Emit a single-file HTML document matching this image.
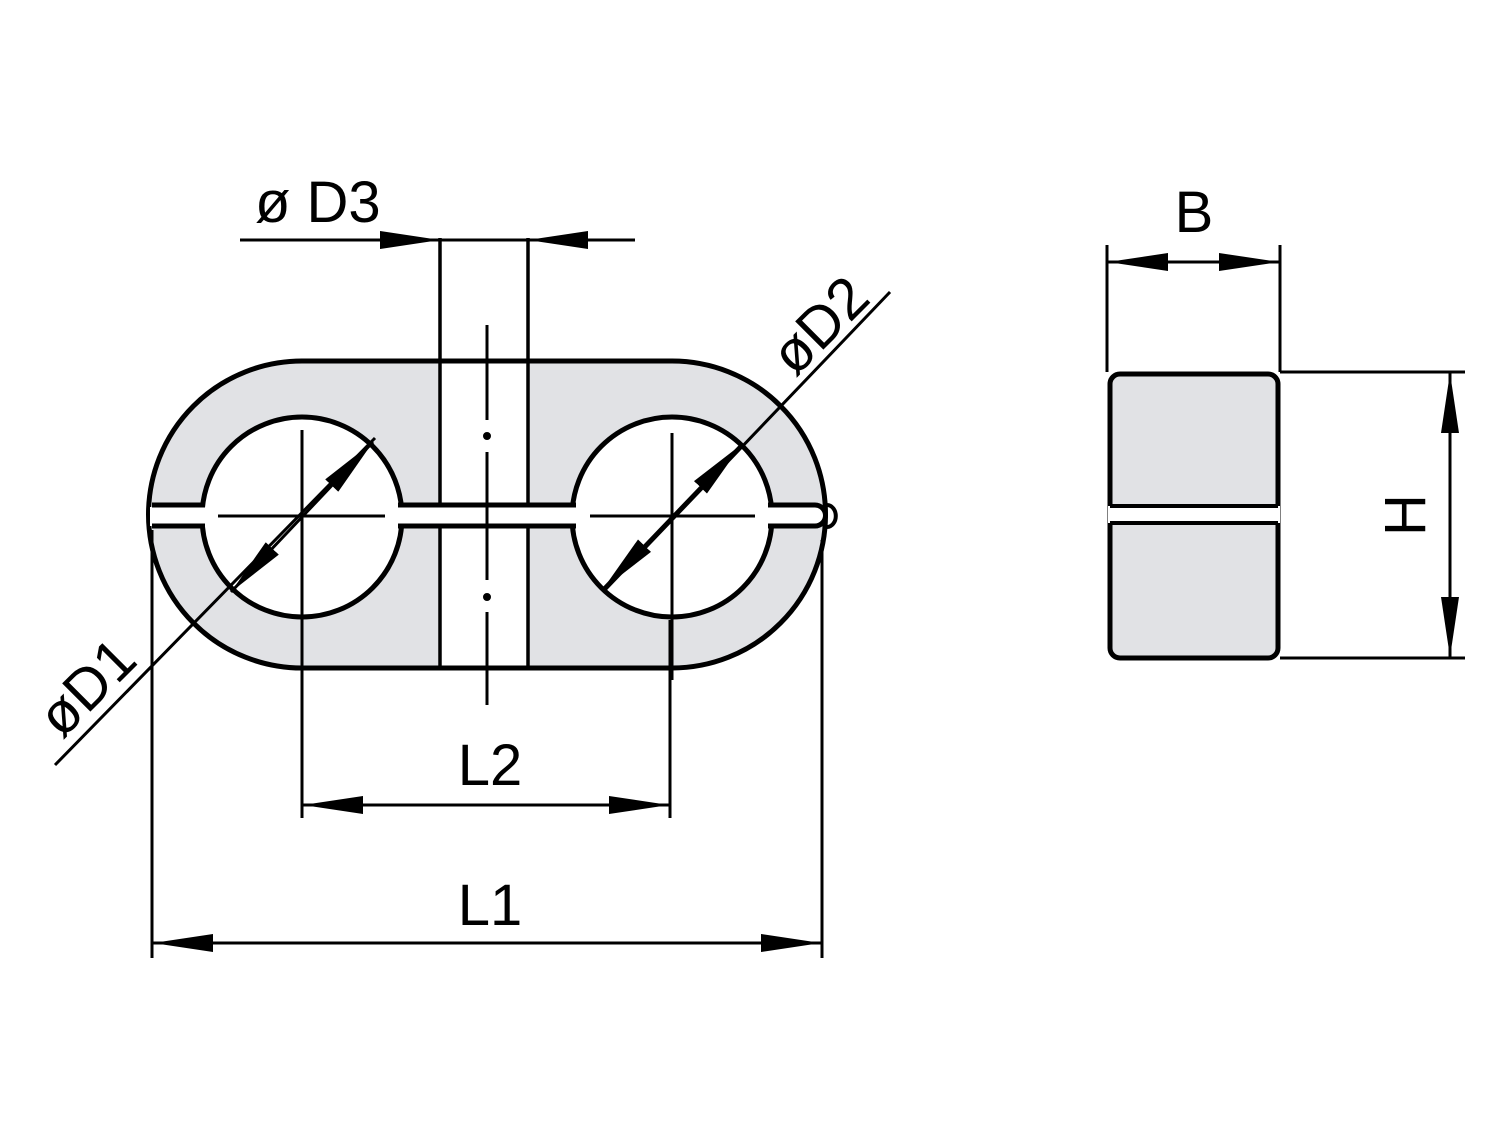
<!DOCTYPE html>
<html><head><style>body{margin:0;background:#fff}svg{display:block}</style></head><body>
<svg width="1500" height="1125" viewBox="0 0 1500 1125" xmlns="http://www.w3.org/2000/svg" font-family="Liberation Sans, sans-serif">
<defs>
<marker id="a" viewBox="0 0 60 24" refX="60" refY="12" markerWidth="60" markerHeight="24" markerUnits="userSpaceOnUse" orient="auto"><path d="M0,3 L60,12 L0,21 Z" fill="#000"/></marker>
</defs>
<g stroke="#000" stroke-width="5" fill="none">
<!-- body -->
<path d="M302,361 L672,361 A153,153 0 0 1 672,668 L302,668 A153,153 0 0 1 302,361 Z" fill="#e1e2e5" stroke="none"/>
<rect x="440" y="361" width="88" height="307" fill="#fff" stroke="none"/>
<path d="M302,361 L672,361 A153,153 0 0 1 672,668 L302,668 A153,153 0 0 1 302,361 Z"/>
<line x1="440" y1="238" x2="440" y2="668" stroke-width="3.5"/>
<line x1="528" y1="238" x2="528" y2="668" stroke-width="3.5"/>
<circle cx="302" cy="517" r="100" fill="#fff"/>
<circle cx="672" cy="517" r="100" fill="#fff"/>
<path d="M150,507 L815,507 A9,9 0 0 1 815,526 L150,526 Z" fill="#fff" stroke="none"/>
<path d="M152,505 L205,505 M398,505 L576,505 M768,505 L815,505 A10.5,10.5 0 0 1 815,526 L768,526 M576,526 L398,526 M205,526 L152,526" stroke-width="5"/>
<path d="M827,505 a8,10 0 0 1 0,22" stroke-width="4"/>
<!-- crosshairs -->
<g stroke-width="3">
<line x1="302" y1="430" x2="302" y2="700"/><line x1="218" y1="516" x2="385" y2="516"/>
<line x1="672" y1="433" x2="672" y2="680"/><line x1="590" y1="516" x2="755" y2="516"/>
<path d="M487,325 V420 M487,452 V580 M487,612 V705"/>
<circle cx="487" cy="436" r="2.5" fill="#000"/><circle cx="487" cy="597" r="2.5" fill="#000"/>
<line x1="302" y1="620" x2="302" y2="818"/><line x1="670" y1="620" x2="670" y2="818"/>
<line x1="152" y1="530" x2="152" y2="958"/><line x1="822" y1="540" x2="822" y2="958"/>
<line x1="240" y1="240" x2="635" y2="240"/>
<line x1="383" y1="240" x2="440" y2="240" marker-end="url(#a)"/>
<line x1="590" y1="240" x2="528" y2="240" marker-end="url(#a)"/>
<line x1="302" y1="805" x2="670" y2="805"/>
<line x1="370" y1="805" x2="303" y2="805" marker-end="url(#a)"/>
<line x1="600" y1="805" x2="669" y2="805" marker-end="url(#a)"/>
<line x1="152" y1="943" x2="822" y2="943"/>
<line x1="220" y1="943" x2="153" y2="943" marker-end="url(#a)"/>
<line x1="755" y1="943" x2="821" y2="943" marker-end="url(#a)"/>
<line x1="55" y1="765" x2="375" y2="438"/>
<line x1="302" y1="517" x2="373" y2="442" marker-end="url(#a)"/>
<line x1="302" y1="517" x2="231" y2="592" marker-end="url(#a)"/>
<line x1="890" y1="292" x2="605" y2="590"/>
<line x1="672" y1="517" x2="742" y2="444" marker-end="url(#a)"/>
<line x1="672" y1="517" x2="603" y2="589" marker-end="url(#a)"/>
<!-- side view dims -->
<line x1="1107" y1="245" x2="1107" y2="372"/><line x1="1280" y1="245" x2="1280" y2="372"/>
<line x1="1107" y1="262" x2="1280" y2="262"/>
<line x1="1172" y1="262" x2="1108" y2="262" marker-end="url(#a)"/>
<line x1="1215" y1="262" x2="1279" y2="262" marker-end="url(#a)"/>
<line x1="1280" y1="372" x2="1465" y2="372"/><line x1="1280" y1="658" x2="1465" y2="658"/>
<line x1="1450" y1="372" x2="1450" y2="658"/>
<line x1="1450" y1="435" x2="1450" y2="373" marker-end="url(#a)"/>
<line x1="1450" y1="595" x2="1450" y2="657" marker-end="url(#a)"/>
</g>
<!-- side view -->
<rect x="1110" y="374" width="168" height="284" rx="10" fill="#e1e2e5"/>
<rect x="1108" y="506" width="172" height="17" fill="#fff" stroke="none"/>
<path d="M1110,506 H1278 M1110,523 H1278" stroke-width="4"/>
</g>
<g font-size="58" fill="#000">
<text x="255" y="222">ø D3</text>
<text x="490" y="785" text-anchor="middle">L2</text>
<text x="490" y="925" text-anchor="middle">L1</text>
<text x="1194" y="232" text-anchor="middle">B</text>
<text transform="translate(1425,515) rotate(-90)" text-anchor="middle">H</text>
<text transform="translate(62,740) rotate(-45)">øD1</text>
<text transform="translate(795,378) rotate(-45)">øD2</text>
</g>
</svg>
</body></html>
